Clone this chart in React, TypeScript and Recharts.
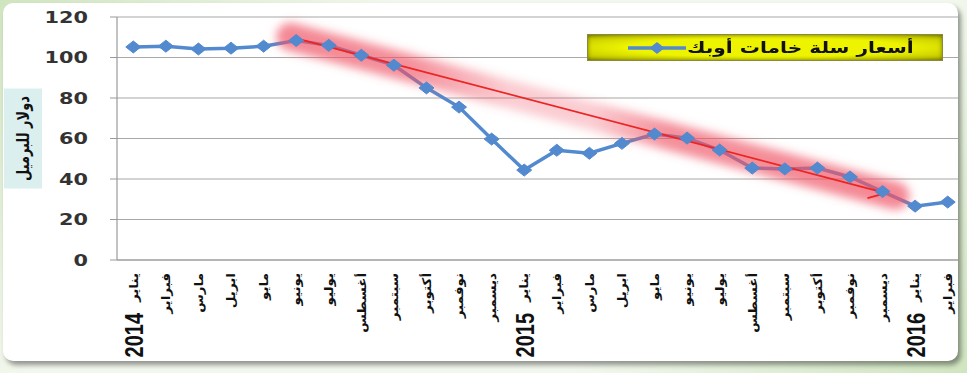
import React from 'react';
import { LineChart, Line, XAxis, YAxis, CartesianGrid, ReferenceLine } from 'recharts';

const MONTH_LABELS = [
  'يناير', 'فبراير', 'مارس', 'ابريل', 'مايو', 'يونيو', 'يوليو', 'أغسطس', 'سبتمبر', 'أكتوبر', 'نوفمبر', 'ديسمبر',
  'يناير', 'فبراير', 'مارس', 'ابريل', 'مايو', 'يونيو', 'يوليو', 'أغسطس', 'سبتمبر', 'أكتوبر', 'نوفمبر', 'ديسمبر',
  'يناير', 'فبراير',
];
const YEAR_LABELS = [
  '2014', '', '', '', '', '', '', '', '', '', '', '',
  '2015', '', '', '', '', '', '', '', '', '', '', '',
  '2016', '',
];
const PRICES = [
  105.2, 105.6, 104.2, 104.6, 105.6, 108.4, 106.0, 101.1, 96.2, 85.0, 75.5, 59.7,
  44.4, 54.2, 52.7, 57.6, 62.2, 60.2, 54.3, 45.4, 45.0, 45.4, 41.0, 33.8,
  26.6, 28.6,
];
const Y_TICKS = [0, 20, 40, 60, 80, 100, 120];
const SERIES_NAME = 'أسعار سلة خامات أوبك';
const Y_TITLE = 'دولار للبرميل';
const TREND_START = { x: 5, y: 109.5 };
const TREND_END = { x: 23.1, y: 33 };

const data = PRICES.map((price, idx) => ({ idx, price }));
const labelTicks = PRICES.map((_, i) => i);
const boundaryTicks = PRICES.map((_, i) => i - 0.5).concat([PRICES.length - 0.5]);

const BLUE = '#5289cf';
const SX = 1.3;

const YTick = (props: any) => {
  const { x, y, payload } = props;
  return (
    <g transform={`translate(${x},${y}) scale(${SX},1)`}>
      <text x={0} y={0} dy="0.36em" textAnchor="end" fill="#333" fontFamily="DejaVu Sans" fontWeight="bold" fontSize={16}>
        {payload.value}
      </text>
    </g>
  );
};

const MonthTick = (props: any) => {
  const { x, y, payload } = props;
  const i = Math.round(payload.value);
  const m = MONTH_LABELS[i];
  const yr = YEAR_LABELS[i];
  return (
    <g transform={`translate(${x},${y})`}>
      <g transform="scale(0.9,1)">
        <text transform="rotate(-90)" x={-7} y={0} dy="0.35em" textAnchor="end" fill="#111" fontFamily="DejaVu Sans" fontWeight="bold" fontSize={13.5}>
          {m}
        </text>
      </g>
      {yr ? (
        <g transform={`scale(${SX},1)`}>
          <text transform="rotate(-90)" x={-47} y={0} dy="0.36em" textAnchor="end" fill="#111" fontFamily="Liberation Sans" fontWeight="bold" fontSize={20}>
            {yr}
          </text>
        </g>
      ) : null}
    </g>
  );
};

const Diamond = (props: any) => {
  const { cx, cy, index } = props;
  if (cx == null || cy == null) return null;
  return (
    <polygon
      key={`d-${index}`}
      points={`${cx - 7.5},${cy} ${cx},${cy - 6} ${cx + 7.5},${cy} ${cx},${cy + 6}`}
      fill={BLUE}
      stroke={BLUE}
      strokeWidth={1}
    />
  );
};

const TrendShape = (p: any) => {
  const { x1, y1, x2, y2 } = p;
  const dx = x2 - x1;
  const dy = y2 - y1;
  const len = Math.sqrt(dx * dx + dy * dy) || 1;
  const ux = dx / len;
  const uy = dy / len;
  const a = (30 * Math.PI) / 180;
  const rx = -ux;
  const ry = -uy;
  const bx = rx * Math.cos(-a) - ry * Math.sin(-a);
  const by = rx * Math.sin(-a) + ry * Math.cos(-a);
  const bl = 19;
  return (
    <g>
      <line
        x1={x1 - ux * 6}
        y1={y1 - uy * 6}
        x2={x2 + ux * 10}
        y2={y2 + uy * 10}
        stroke="url(#glowGrad)"
        strokeWidth={28}
        strokeLinecap="round"
        filter="url(#glowBlur)"
      />
      <line x1={x1} y1={y1} x2={x2} y2={y2} stroke="#ec2424" strokeWidth={1.8} />
      <line x1={x2} y1={y2} x2={x2 + bx * bl} y2={y2 + by * bl} stroke="#ec2424" strokeWidth={1.8} />
    </g>
  );
};

const YTitle = (p: any) => {
  const vb = p.viewBox || { x: 0, y: 17, width: 117, height: 243 };
  const cx = vb.x + 23;
  const cy = vb.y + vb.height / 2;
  return (
    <g>
      <rect x={cx - 19} y={cy - 50} width={38} height={100} fill="#dcefef" />
      <g transform={`translate(${cx},${cy}) scale(${SX},1) rotate(-90)`}>
        <text x={0} y={0} dy="0.35em" textAnchor="middle" fill="#111" fontFamily="DejaVu Sans" fontWeight="bold" fontSize={13}>
          {Y_TITLE}
        </text>
      </g>
    </g>
  );
};

export default function App() {
  return (
    <div style={{ position: 'absolute', left: 0, top: 0, width: 967, height: 373, background: 'linear-gradient(135deg, #cfe5bf 0%, #f3f8ee 30%, #f3f8ee 70%, #cfe5bf 100%)', overflow: 'hidden' }}>
      <div
        style={{
          position: 'absolute',
          left: 3,
          top: 3,
          width: 955,
          height: 358,
          borderRadius: 10,
          background: '#ffffff',
          boxShadow: '3px 4px 5px rgba(0,0,0,0.4)',
          overflow: 'hidden',
        }}
      >
        <div style={{ position: 'absolute', left: -3, top: -3 }}>
          <LineChart width={967} height={373} data={data} margin={{ top: 17, right: 3, bottom: 0, left: 0 }}>
            <defs>
              <linearGradient id="glowGrad" x1="0" y1="0" x2="1" y2="0">
                <stop offset="0" stopColor="#ef5566" stopOpacity={0.7} />
                <stop offset="0.2" stopColor="#ef5566" stopOpacity={0.65} />
                <stop offset="0.36" stopColor="#ef5566" stopOpacity={0.3} />
                <stop offset="0.5" stopColor="#ef5566" stopOpacity={0.3} />
                <stop offset="0.62" stopColor="#ef5566" stopOpacity={0.65} />
                <stop offset="1" stopColor="#ef5566" stopOpacity={0.7} />
              </linearGradient>
              <filter id="glowBlur" x="-10%" y="-50%" width="120%" height="200%">
                <feGaussianBlur stdDeviation="5" />
              </filter>
            </defs>
            <CartesianGrid stroke="#a8a8a8" strokeWidth={1.2} vertical={false} />
            <XAxis
              xAxisId={0}
              dataKey="idx"
              type="number"
              domain={[-0.5, PRICES.length - 0.5]}
              ticks={boundaryTicks}
              tick={false}
              tickSize={5}
              height={6}
              axisLine={{ stroke: '#999', strokeWidth: 1.2 }}
              tickLine={{ stroke: '#999', strokeWidth: 1.2 }}
              interval={0}
            />
            <XAxis
              xAxisId="lbl"
              dataKey="idx"
              type="number"
              domain={[-0.5, PRICES.length - 0.5]}
              ticks={labelTicks}
              tick={<MonthTick />}
              tickSize={0}
              tickMargin={0}
              height={107}
              axisLine={false}
              tickLine={false}
              interval={0}
            />
            <YAxis
              domain={[0, 120]}
              ticks={Y_TICKS}
              width={117}
              tick={<YTick />}
              tickSize={7}
              tickMargin={22}
              axisLine={{ stroke: '#999', strokeWidth: 1.2 }}
              tickLine={{ stroke: '#999', strokeWidth: 1.2 }}
              interval={0}
              label={{ content: (p: any) => <YTitle {...p} /> }}
            />
            <Line
              type="linear"
              dataKey="price"
              name={SERIES_NAME}
              stroke={BLUE}
              strokeWidth={3.5}
              dot={(p: any) => <Diamond {...p} />}
              activeDot={false}
              isAnimationActive={false}
            />
            <ReferenceLine
              segment={[TREND_START, TREND_END]}
              ifOverflow="visible"
              shape={(p: any) => <TrendShape {...p} />}
            />
          </LineChart>
        </div>
      </div>
      <div
        style={{
          position: 'absolute',
          left: 587,
          top: 34,
          width: 356,
          height: 27,
          boxSizing: 'border-box',
          border: '1px solid #8a8a3a',
          background: 'radial-gradient(ellipse at center, #eef400 55%, #c8cc00 85%, #9fa200 100%)',
          boxShadow: 'inset 0 0 4px rgba(60,60,0,0.6)',
        }}
      >
        <svg width={60} height={27} style={{ position: 'absolute', left: 39, top: 0 }}>
          <line x1={1} y1={13} x2={59} y2={13} stroke={BLUE} strokeWidth={3.5} />
          <polygon points="22.5,13 30,7 37.5,13 30,19" fill={BLUE} />
        </svg>
        <div
          style={{
            position: 'absolute',
            left: 99,
            top: 2,
            whiteSpace: 'nowrap',
            transform: `scale(${SX},1)`,
            transformOrigin: 'left top',
            fontFamily: 'DejaVu Sans',
            fontWeight: 'bold',
            fontSize: 15.5,
            color: '#111',
            direction: 'rtl',
            lineHeight: '22px',
          }}
        >
          {SERIES_NAME}
        </div>
      </div>
    </div>
  );
}
